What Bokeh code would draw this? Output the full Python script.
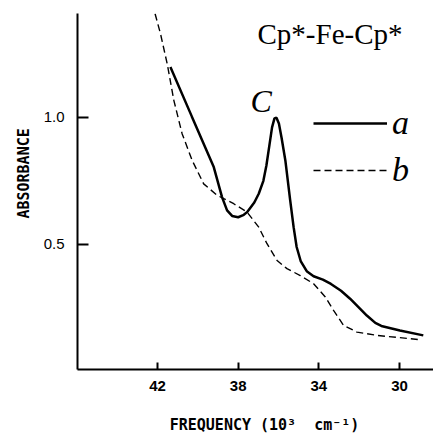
from bokeh.plotting import figure
from bokeh.models import Range1d, FixedTicker, Label, Legend, LegendItem
from bokeh.embed import file_html
from bokeh.resources import INLINE

# ---- data (frequency in 10^3 cm^-1, absorbance) ----
a_freq = [41.36, 40.3, 39.21, 38.80, 38.55, 38.30, 38.0, 37.75, 37.56, 37.2,
          36.98, 36.75, 36.6, 36.45, 36.32, 36.2, 36.1, 35.98, 35.85, 35.66,
          35.42, 35.25, 35.1, 34.9, 34.6, 34.26, 33.8, 33.4, 32.9, 32.45,
          31.62, 31.2, 30.9, 29.98, 28.82]
a_abs = [1.197, 1.003, 0.804, 0.686, 0.634, 0.612, 0.607, 0.615, 0.627, 0.665,
         0.699, 0.75, 0.81, 0.89, 0.96, 0.995, 0.998, 0.975, 0.92, 0.83,
         0.673, 0.568, 0.49, 0.435, 0.395, 0.375, 0.362, 0.345, 0.318, 0.287,
         0.221, 0.192, 0.18, 0.162, 0.143]

b_freq = [42.12, 41.85, 41.52, 41.19, 40.78, 40.28, 39.71, 39.04, 38.22, 37.56,
          36.98, 36.57, 36.07, 35.58, 34.92, 34.26, 33.68, 33.27, 32.77, 32.11,
          31.12, 29.98, 28.99]
b_abs = [1.406, 1.327, 1.21, 1.066, 0.935, 0.83, 0.738, 0.693, 0.66, 0.627,
         0.568, 0.503, 0.437, 0.405, 0.378, 0.346, 0.294, 0.241, 0.182, 0.156,
         0.143, 0.134, 0.126]

x_ticks = [42, 38, 34, 30]
x_tick_labels = ["42", "38", "34", "30"]
y_ticks = [0.5, 1.0]
y_tick_labels = ["0.5", "1.0"]

series_labels = ["a", "b"]
title_text = "Cp*-Fe-Cp*"
peak_label = "C"
NB = "\u00a0"
x_title = NB * 2 + "FREQUENCY (10\u00b3" + NB * 2 + "cm\u207b\u00b9)"
y_title = NB * 4 + "ABSORBANCE"

p = figure(width=433, height=442, output_backend="svg", toolbar_location=None,
           x_range=Range1d(45.967, 28.314), y_range=Range1d(0.009, 1.407),
           min_border_left=77, min_border_right=0, min_border_top=13,
           min_border_bottom=73)
p.outline_line_color = None
p.xgrid.grid_line_color = None
p.ygrid.grid_line_color = None
p.background_fill_color = "white"

for ax in (p.xaxis[0], p.yaxis[0]):
    ax.axis_line_width = 2
    ax.axis_line_color = "black"
    ax.major_tick_line_width = 2
    ax.major_tick_line_color = "black"
    ax.minor_tick_line_color = None
    ax.major_tick_out = 0
    ax.major_label_text_color = "black"
    ax.major_label_text_font = "Liberation Sans"
    ax.major_label_text_font_size = "15px"
    ax.axis_label_text_font = "DejaVu Sans Mono"
    ax.axis_label_text_font_style = "bold"
    ax.axis_label_text_color = "black"

p.xaxis.ticker = FixedTicker(ticks=x_ticks)
p.xaxis.major_label_overrides = {t: l for t, l in zip(x_ticks, x_tick_labels)}
p.xaxis.major_tick_in = 7
p.xaxis.major_label_standoff = 11
p.xaxis.major_label_text_font_style = "bold"
p.xaxis.axis_label = x_title
p.xaxis.axis_label_text_font_size = "15px"
p.xaxis.axis_label_standoff = 22

p.yaxis.ticker = FixedTicker(ticks=y_ticks)
p.yaxis.major_label_overrides = {t: l for t, l in zip(y_ticks, y_tick_labels)}
p.yaxis.major_tick_in = 11
p.yaxis.major_label_standoff = 13
p.yaxis.axis_label = y_title
p.yaxis.axis_label_text_font_size = "15px"
p.yaxis.axis_label_standoff = 8

ra = p.line(a_freq, a_abs, line_color="black", line_width=2.5)
rb = p.line(b_freq, b_abs, line_color="black", line_width=1.4, line_dash="7 4")

legend = Legend(items=[LegendItem(label=series_labels[0], renderers=[ra]),
                       LegendItem(label=series_labels[1], renderers=[rb])],
                location=(236, 180))
legend.glyph_width = 74
legend.glyph_height = 20
legend.label_standoff = 5
legend.padding = 0
legend.margin = 0
legend.spacing = 9
legend.border_line_color = None
legend.background_fill_alpha = 0
legend.label_text_font = "Liberation Serif"
legend.label_text_font_style = "italic"
legend.label_text_font_size = "34px"
legend.label_text_color = "black"
p.add_layout(legend)

p.add_layout(Label(x=37.04, y=1.3248, text=title_text, text_font="Liberation Serif",
                   text_font_size="29px", text_color="black",
                   text_align="left", text_baseline="alphabetic"))
p.add_layout(Label(x=37.39, y=1.0617, text=peak_label, text_font="Liberation Serif",
                   text_font_style="italic", text_font_size="32px", text_color="black",
                   text_align="left", text_baseline="alphabetic"))

open("out.html", "w").write(file_html(p, INLINE))
